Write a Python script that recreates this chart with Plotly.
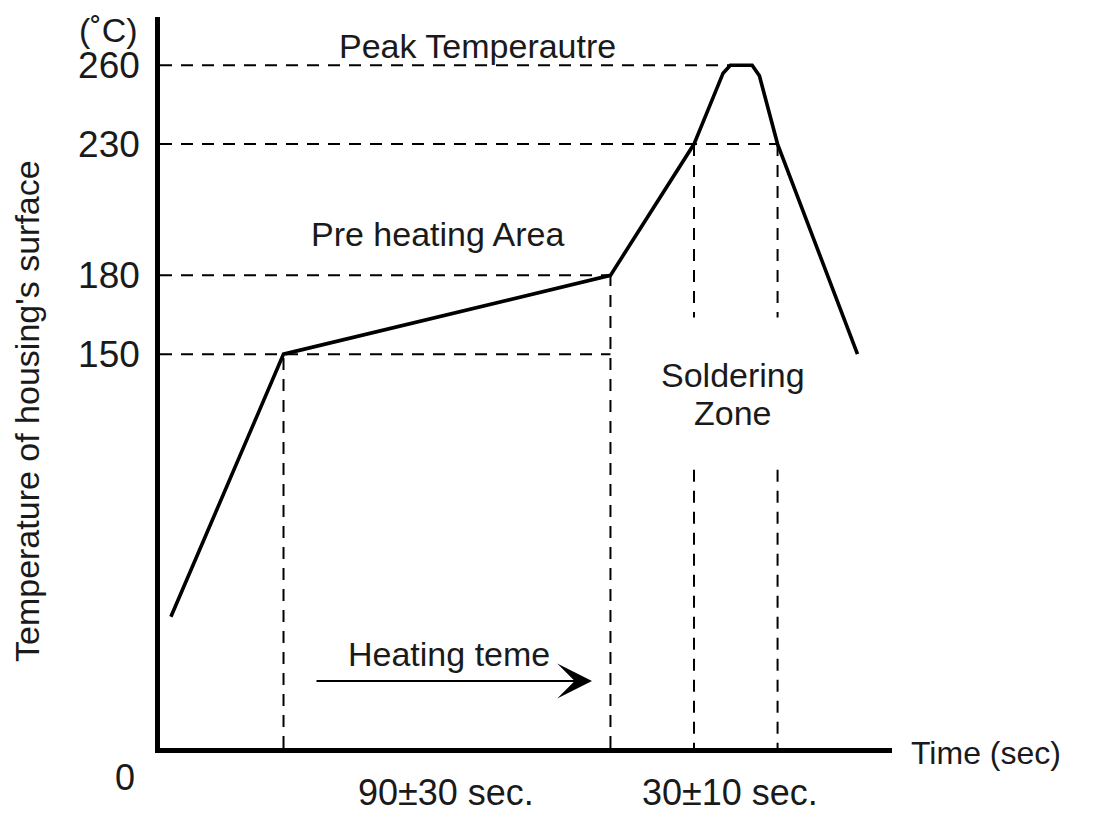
import plotly.graph_objects as go

# ---- data ----
time_s = [3, 34, 124, 147, 155, 157, 163, 165, 170, 192]
temp_c = [50, 150, 180, 230, 257, 260, 260, 256, 230, 150]

temp_ticks = [150, 180, 230, 260]
temp_tick_labels = ["150", "180", "230", "260"]

# key times (s) of the profile
t_preheat_start = 34
t_preheat_end = 124
t_solder_start = 147
t_solder_end = 170
t_peak_start = 157

# horizontal guide lines: (temperature, end time)
guide_h_temp = [260, 230, 180, 150]
guide_h_end = [t_peak_start, t_solder_end, t_preheat_end, t_preheat_end]

# vertical guide lines: (time, top temperature)
guide_v_time = [t_preheat_start, t_preheat_end]
guide_v_top = [150, 180]

# soldering-zone verticals are broken around the label
solder_v_time = [t_solder_start, t_solder_end]
solder_gap_temps = [164, 106]   # upper piece ends / lower piece starts

X_RANGE = [0, 201.5]
Y_RANGE = [0, 278.4]

# ---- layout helpers (pixel -> paper) ----
# the page body adds an 8px margin, so the figure is drawn 8px smaller
OFF = 8
W, H = 1101 - OFF, 813 - OFF
L, R, T, B = 160 - OFF, 892 - OFF, 17 - OFF, 748 - OFF


def px(x):
    return (x - OFF - L) / (R - L)


def py(y):
    return (B - (y - OFF)) / (B - T)


TXT = "#1a1a1a"
FONT = "Liberation Sans, Arial, sans-serif"
DASH = "12px,9px"

fig = go.Figure()

fig.add_trace(go.Scatter(
    x=time_s, y=temp_c, mode="lines",
    line=dict(color="black", width=3.6),
    hoverinfo="skip", showlegend=False,
))

shapes = []
for tc, te in zip(guide_h_temp, guide_h_end):
    shapes.append(dict(type="line", xref="x", yref="y", x0=0, x1=te, y0=tc, y1=tc,
                       line=dict(color="black", width=2, dash=DASH)))
for tv, top in zip(guide_v_time, guide_v_top):
    shapes.append(dict(type="line", xref="x", yref="y", x0=tv, x1=tv, y0=0, y1=top,
                       line=dict(color="black", width=2, dash=DASH)))
for tv in solder_v_time:
    shapes.append(dict(type="line", xref="x", yref="y", x0=tv, x1=tv, y0=230, y1=solder_gap_temps[0],
                       line=dict(color="black", width=2, dash=DASH)))
    shapes.append(dict(type="line", xref="x", yref="y", x0=tv, x1=tv, y0=solder_gap_temps[1], y1=0,
                       line=dict(color="black", width=2, dash=DASH)))

annotations = []


def txt(text, x, y, size=34, angle=0):
    annotations.append(dict(
        text=text, x=px(x), y=py(y), xref="paper", yref="paper",
        xanchor="center", yanchor="middle", showarrow=False,
        textangle=angle, font=dict(family=FONT, size=size, color=TXT),
    ))


txt("(˚C)", 108, 30, 34)
txt("Peak Temperautre", 477, 46)
txt("Pre heating Area", 437, 234)
txt("Soldering", 733, 375)
txt("Zone", 733, 413)
txt("Heating teme", 449, 654)
txt("0", 125, 777, 36)
txt("90±30 sec.", 446, 792, 36)
txt("30±10 sec.", 730, 792, 36)
txt("Time (sec)", 986, 753, 32)
txt("Temperature of housing's surface", 27, 411, 34, -90)

# arrow for heating time
annotations.append(dict(
    x=px(592), y=py(681), ax=-(592 - 315), ay=0,
    xref="paper", yref="paper", axref="pixel", ayref="pixel",
    text="", showarrow=True, arrowhead=3, arrowsize=2.9, arrowwidth=2,
    arrowcolor="black",
))

fig.update_layout(
    width=W, height=H,
    margin=dict(l=L, r=W - R, t=T, b=H - B),
    paper_bgcolor="white", plot_bgcolor="white",
    shapes=shapes, annotations=annotations,
    showlegend=False,
    xaxis=dict(range=X_RANGE, showgrid=False, zeroline=False, showticklabels=False,
               ticks="", showline=True, linecolor="black", linewidth=4.5, fixedrange=True),
    yaxis=dict(range=Y_RANGE, showgrid=False, zeroline=False,
               tickvals=temp_ticks, ticktext=temp_tick_labels, ticks="",
               ticklabelstandoff=8,
               tickfont=dict(family=FONT, size=37, color=TXT),
               showline=True, linecolor="black", linewidth=4.5, fixedrange=True),
)

fig.write_html("out.html", config={"displayModeBar": False})
